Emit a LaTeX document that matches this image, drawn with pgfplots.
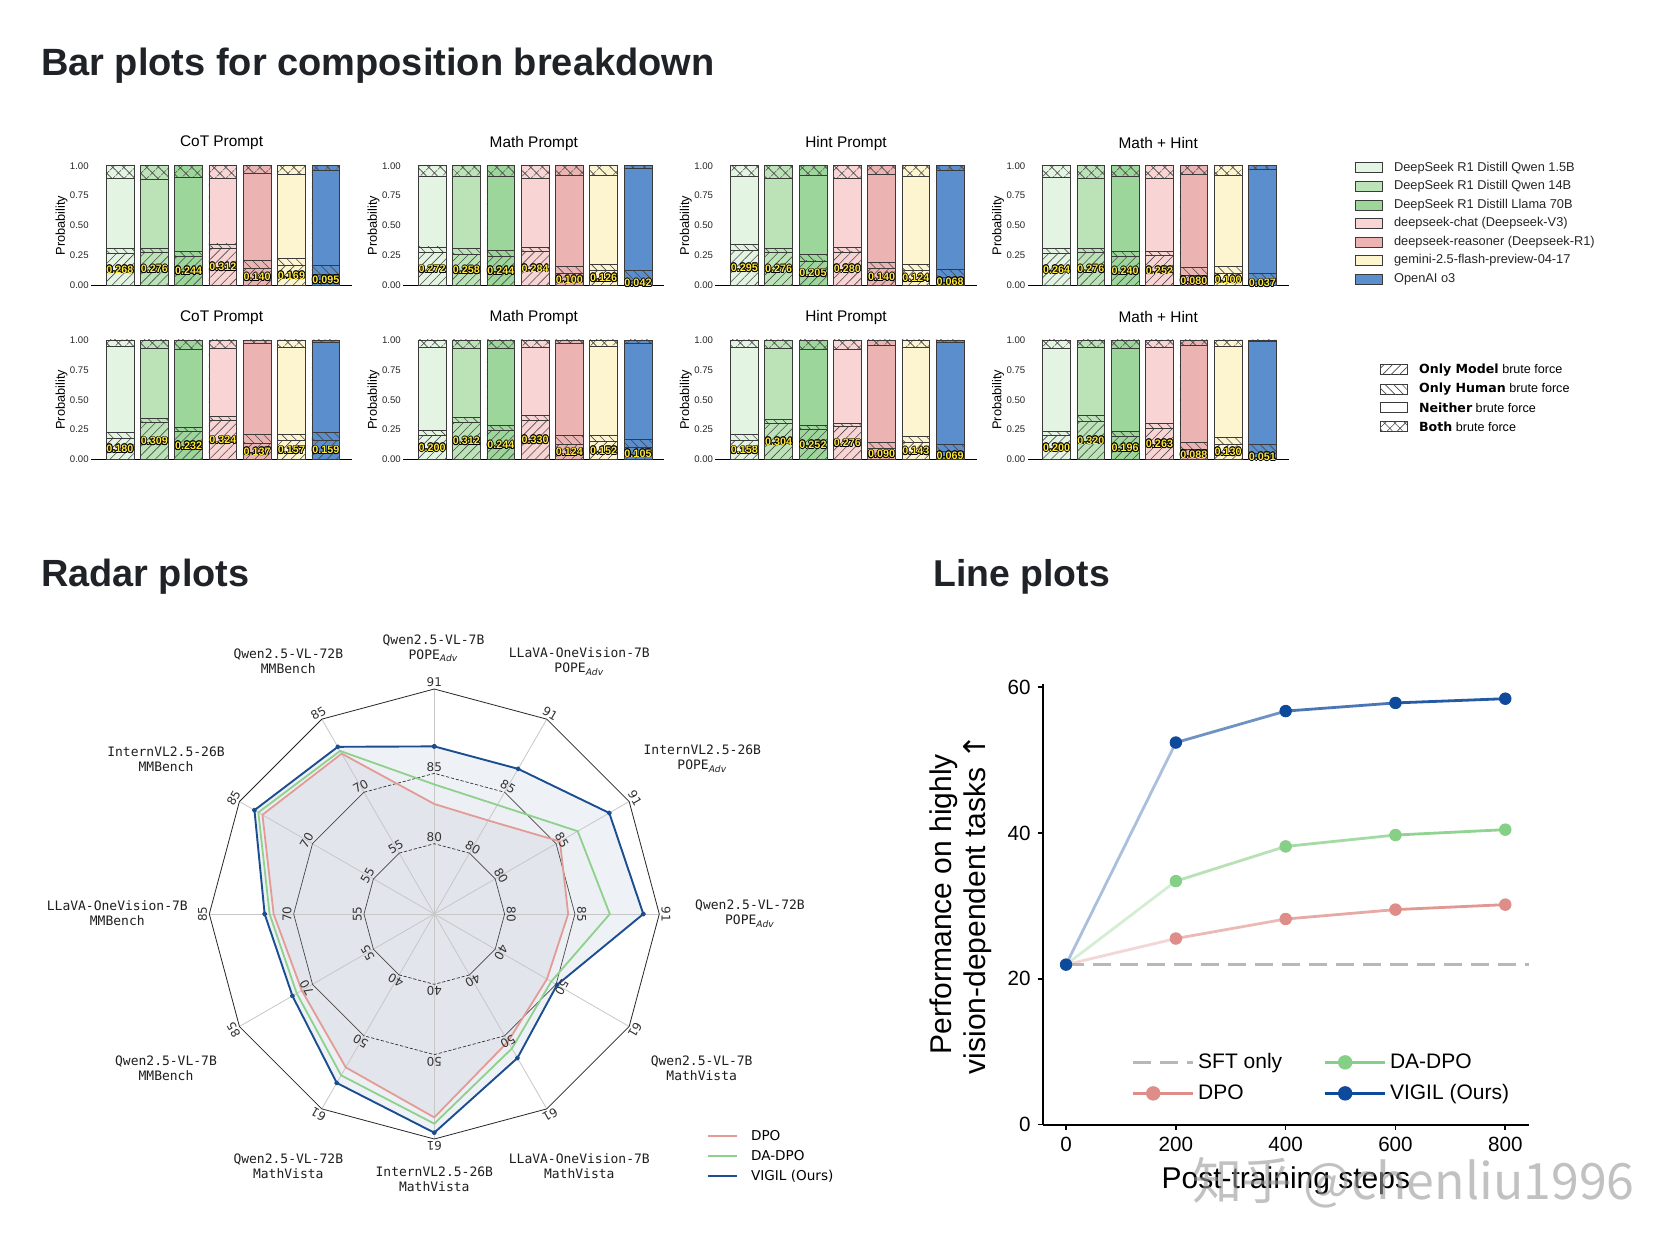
\documentclass[border=0pt]{standalone}
\usepackage{graphicx}
\usepackage{pgfplots}
\pgfplotsset{compat=1.18}
\usepgfplotslibrary{polar}
\usetikzlibrary{patterns.meta}
\usepackage{fontspec}
\setmainfont{Liberation Sans}
\setsansfont{Liberation Sans}
\newfontfamily\mono{DejaVu Sans Mono}
\newfontfamily\dejavu{DejaVu Sans}
\newfontfamily\cjk{Noto Sans CJK SC}
\newcommand\fs[2]{\fontsize{#1}{#2}\selectfont}

\definecolor{c0}{HTML}{E4F4E2}
\definecolor{c1}{HTML}{BCE3B8}
\definecolor{c2}{HTML}{9DD69A}
\definecolor{c3}{HTML}{F8D5D4}
\definecolor{c4}{HTML}{ECB3B3}
\definecolor{c5}{HTML}{FDF5CF}
\definecolor{c6}{HTML}{5B8ECC}
\definecolor{edge}{HTML}{3A3A3A}
\definecolor{hatch}{HTML}{4A4A4A}
\definecolor{labyellow}{HTML}{FFE83A}
\definecolor{vigil}{HTML}{1B4D91}
\definecolor{dadpo}{HTML}{8FD08C}
\definecolor{dpo}{HTML}{E39B96}
\definecolor{lvigil}{HTML}{0E4A9C}
\definecolor{lda}{HTML}{86CF86}
\definecolor{ldpo}{HTML}{DE8D88}
\definecolor{sft}{HTML}{B8B8B8}
\definecolor{head}{HTML}{1F2328}
\definecolor{rfill}{HTML}{7A7F8A}

\pgfplotsset{
 OMs/.style={bar shift=0pt, draw=edge, line width=0.35pt, postaction={pattern={Lines[angle=45,distance=3.2pt,line width=0.3pt]}, pattern color=hatch}},
 OHs/.style={bar shift=0pt, draw=edge, line width=0.35pt, postaction={pattern={Lines[angle=-45,distance=3.2pt,line width=0.3pt]}, pattern color=hatch}},
 Ns/.style={bar shift=0pt, draw=edge, line width=0.35pt},
 Bs/.style={bar shift=0pt, draw=edge, line width=0.35pt, postaction={pattern={Hatch[angle=45,distance=4pt,line width=0.3pt]}, pattern color=hatch}},
}
\tikzset{rlabel/.style={font=\dejavu\fs{6}{7}, text=black!80, inner sep=0pt}}

\newcommand\otext[1]{%
 \makebox[0pt]{\raisebox{0.4pt}{\color{black}#1}}%
 \makebox[0pt]{\raisebox{-0.4pt}{\color{black}#1}}%
 \makebox[0pt]{\hspace{0.8pt}\color{black}#1}%
 \makebox[0pt]{\hspace{-0.8pt}\color{black}#1}%
 \makebox[0pt]{\hspace{0.6pt}\raisebox{0.3pt}{\color{black}#1}}%
 \makebox[0pt]{\hspace{-0.6pt}\raisebox{-0.3pt}{\color{black}#1}}%
 \makebox[0pt]{\hspace{0.6pt}\raisebox{-0.3pt}{\color{black}#1}}%
 \makebox[0pt]{\hspace{-0.6pt}\raisebox{0.3pt}{\color{black}#1}}%
 \makebox[0pt]{\color{labyellow}#1}}

\pgfplotsset{
 barax/.style={
  scale only axis, width=130.6pt, height=59.85pt,
  ybar, bar width=0.81,
  xmin=-0.845, xmax=6.77, ymin=0, ymax=1,
  axis x line*=bottom, axis y line*=left,
  y axis line style={draw=none},
  x axis line style={line width=0.8pt, black},
  xtick=\empty,
  ytick={0,0.25,0.5,0.75,1}, yticklabels={0.00,0.25,0.50,0.75,1.00},
  major tick length=0pt,
  yticklabel style={font=\fs{4.8}{5.5}, text=black!85, inner sep=1pt},
  ylabel={Probability},
  ylabel style={at={(axis description cs:-0.113,0.5)}, anchor=center, font=\fs{6.4}{7.5}},
  title style={at={(axis description cs:0.5,1)}, anchor=center, yshift=5.25pt, font=\fs{7.7}{9}},
  clip=false,
 }
}

% one stacked bar, drawn back to front from its cumulative boundaries:
% idx, colour, top of "only model", top of "only human", top of "neither" (top of "both" = 1)
\newcommand\onebar[5]{%
 \addplot[fill=#2, Bs] coordinates {(#1,1)};
 \addplot[fill=#2, Ns] coordinates {(#1,#5)};
 \addplot[fill=#2, OHs] coordinates {(#1,#4)};
 \addplot[fill=#2, OMs] coordinates {(#1,#3)};
}
\newcommand\barlabels[7]{%
 \addplot[bar shift=0pt, draw=none, fill=none, y filter/.expression={y/2},
   nodes near coords={\otext{\pgfplotspointmeta}}, point meta=explicit symbolic,
   every node near coord/.style={anchor=center, inner sep=0pt, font=\bfseries\fs{5.4}{6}}]
   coordinates {(0,#1)[#1] (1,#2)[#2] (2,#3)[#3] (3,#4)[#4] (4,#5)[#5] (5,#6)[#6] (6,#7)[#7]};
}
\newcommand\barplot[4]{%
 \begin{axis}[barax, at={(#1pt,#2pt)}, anchor=south west, title={#3}]
 #4
 \end{axis}}

\newcommand\rlab[4]{%
 \node[rlabel, rotate=#1-90] at (axis cs:#1,0.3425) {#2};
 \node[rlabel, rotate=#1-90] at (axis cs:#1,0.655) {#3};
 \node[rlabel, rotate=#1-90] at (axis cs:#1,1.03) {#4};}
% ring at radius #1 : solid on the side sectors, dashed next to the vertical spokes
\newcommand\ring[1]{%
 \addplot[draw=black!72, line width=0.35pt] coordinates {(60,#1)(30,#1)(0,#1)(-30,#1)(-60,#1)};
 \addplot[draw=black!72, line width=0.35pt] coordinates {(-120,#1)(-150,#1)(-180,#1)(-210,#1)(-240,#1)};
 \addplot[draw=black!80, line width=0.35pt, dash pattern=on 1.6pt off 0.9pt] coordinates {(-240,#1)(90,#1)(60,#1)};
 \addplot[draw=black!80, line width=0.35pt, dash pattern=on 1.6pt off 0.9pt] coordinates {(-60,#1)(-90,#1)(-120,#1)};
}

\newcommand\adv{POPE\textsubscript{\dejavu\itshape Adv}}

\begin{document}
\begin{tikzpicture}
\begin{scope}[x=0.5pt,y=-0.5pt]
\fill[white] (0,0) rectangle (1676,1248);
% headings
\node[anchor=base west, inner sep=0pt, text=head] at (40.6,75.9) {\resizebox{336.7pt}{!}{\bfseries Bar plots for composition breakdown}};
\node[anchor=base west, inner sep=0pt, text=head] at (40.6,586.8) {\resizebox{104.2pt}{!}{\bfseries Radar plots}};
\node[anchor=base west, inner sep=0pt, text=head] at (933.2,586.8) {\resizebox{88.2pt}{!}{\bfseries Line plots}};
% model legend
\foreach \c/\t [count=\k from 0] in {c0/DeepSeek R1 Distill Qwen 1.5B, c1/DeepSeek R1 Distill Qwen 14B, c2/DeepSeek R1 Distill Llama 70B, c3/deepseek-chat (Deepseek-V3), c4/deepseek-reasoner (Deepseek-R1), c5/gemini-2.5-flash-preview-04-17, c6/OpenAI o3}{
  \pgfmathsetmacro\yy{167.8+18.53*\k}
  \draw[fill=\c, draw=edge, line width=0.35pt] (1355,\yy-5) rectangle (1382,\yy+5);
  \node[anchor=west, font=\fs{6.4}{7.5}, text=black!85] at (1387,\yy) {\t};
}
% hatch legend
\draw[fill=white, draw=edge, line width=0.35pt, postaction={pattern={Lines[angle=45,distance=3pt,line width=0.3pt]}, pattern color=hatch}] (1380,364.8) rectangle (1407,374.8);
\draw[fill=white, draw=edge, line width=0.35pt, postaction={pattern={Lines[angle=-45,distance=3pt,line width=0.3pt]}, pattern color=hatch}] (1380,384) rectangle (1407,394);
\draw[fill=white, draw=edge, line width=0.35pt] (1380,402.3) rectangle (1407,412.3);
\draw[fill=white, draw=edge, line width=0.35pt, postaction={pattern={Hatch[angle=45,distance=3.6pt,line width=0.3pt]}, pattern color=hatch}] (1380,421.5) rectangle (1407,431.5);
\node[anchor=west, font=\fs{6.3}{7.5}] at (1412,369.8) {{\dejavu\bfseries Only Model} brute force};
\node[anchor=west, font=\fs{6.3}{7.5}] at (1412,389) {{\dejavu\bfseries Only Human} brute force};
\node[anchor=west, font=\fs{6.3}{7.5}] at (1412,407.3) {{\dejavu\bfseries Neither} brute force};
\node[anchor=west, font=\fs{6.3}{7.5}] at (1412,426.5) {{\dejavu\bfseries Both} brute force};
% radar category labels
\tikzset{rcat/.style={align=center, font=\mono\fs{6.5}{7.5}, text=black!88, inner sep=0pt}}
\node[rcat] at (433.5,648.3) {Qwen2.5-VL-7B\\\adv};
\node[rcat] at (579.3,662) {LLaVA-OneVision-7B\\\adv};
\node[rcat] at (702.3,759) {InternVL2.5-26B\\\adv};
\node[rcat] at (750,913.8) {Qwen2.5-VL-72B\\\adv};
\node[rcat] at (701.7,1068) {Qwen2.5-VL-7B\\MathVista};
\node[rcat] at (579.3,1166) {LLaVA-OneVision-7B\\MathVista};
\node[rcat] at (434.3,1179.5) {InternVL2.5-26B\\MathVista};
\node[rcat] at (288.3,1166) {Qwen2.5-VL-72B\\MathVista};
\node[rcat] at (166,1068) {Qwen2.5-VL-7B\\MMBench};
\node[rcat] at (117.3,913.5) {LLaVA-OneVision-7B\\MMBench};
\node[rcat] at (166,759.3) {InternVL2.5-26B\\MMBench};
\node[rcat] at (288.3,661.7) {Qwen2.5-VL-72B\\MMBench};
% radar legend
\draw[dpo, line width=1pt] (708,1135.7) -- (737,1135.7);
\draw[dadpo, line width=1pt] (708,1155.7) -- (737,1155.7);
\draw[vigil, line width=1pt] (708,1176.2) -- (737,1176.2);
\node[anchor=west, font=\dejavu\fs{6.8}{8}] at (744,1135.7) {DPO};
\node[anchor=west, font=\dejavu\fs{6.8}{8}] at (744,1155.7) {DA-DPO};
\node[anchor=west, font=\dejavu\fs{6.8}{8}] at (744,1176.2) {VIGIL (Ours)};
\end{scope}

% ---------------- bar plots ----------------
\barplot{45.5}{-142.7}{CoT Prompt}{%
 \onebar{0}{c0}{0.268}{0.306}{0.894}
 \onebar{1}{c1}{0.276}{0.311}{0.889}
 \onebar{2}{c2}{0.244}{0.286}{0.903}
 \onebar{3}{c3}{0.312}{0.347}{0.897}
 \onebar{4}{c4}{0.140}{0.208}{0.939}
 \onebar{5}{c5}{0.169}{0.228}{0.925}
 \onebar{6}{c6}{0.095}{0.167}{0.964}
 \barlabels{0.268}{0.276}{0.244}{0.312}{0.140}{0.169}{0.095}}
\barplot{201.6}{-142.7}{Math Prompt}{%
 \onebar{0}{c0}{0.272}{0.322}{0.911}
 \onebar{1}{c1}{0.258}{0.306}{0.911}
 \onebar{2}{c2}{0.244}{0.289}{0.911}
 \onebar{3}{c3}{0.284}{0.319}{0.897}
 \onebar{4}{c4}{0.100}{0.158}{0.922}
 \onebar{5}{c5}{0.126}{0.175}{0.922}
 \onebar{6}{c6}{0.042}{0.125}{0.981}
 \barlabels{0.272}{0.258}{0.244}{0.284}{0.100}{0.126}{0.042}}
\barplot{357.7}{-142.7}{Hint Prompt}{%
 \onebar{0}{c0}{0.295}{0.339}{0.908}
 \onebar{1}{c1}{0.276}{0.306}{0.894}
 \onebar{2}{c2}{0.205}{0.258}{0.917}
 \onebar{3}{c3}{0.280}{0.314}{0.894}
 \onebar{4}{c4}{0.140}{0.194}{0.931}
 \onebar{5}{c5}{0.124}{0.172}{0.911}
 \onebar{6}{c6}{0.068}{0.136}{0.964}
 \barlabels{0.295}{0.276}{0.205}{0.280}{0.140}{0.124}{0.068}}
\barplot{513.8}{-142.7}{Math + Hint}{%
 \onebar{0}{c0}{0.264}{0.306}{0.906}
 \onebar{1}{c1}{0.276}{0.306}{0.894}
 \onebar{2}{c2}{0.240}{0.286}{0.914}
 \onebar{3}{c3}{0.252}{0.283}{0.894}
 \onebar{4}{c4}{0.080}{0.150}{0.931}
 \onebar{5}{c5}{0.100}{0.158}{0.919}
 \onebar{6}{c6}{0.037}{0.097}{0.967}
 \barlabels{0.264}{0.276}{0.240}{0.252}{0.080}{0.100}{0.037}}
\barplot{45.5}{-229.8}{CoT Prompt}{%
 \onebar{0}{c0}{0.180}{0.230}{0.950}
 \onebar{1}{c1}{0.309}{0.341}{0.928}
 \onebar{2}{c2}{0.232}{0.266}{0.922}
 \onebar{3}{c3}{0.324}{0.360}{0.928}
 \onebar{4}{c4}{0.137}{0.208}{0.972}
 \onebar{5}{c5}{0.157}{0.208}{0.939}
 \onebar{6}{c6}{0.159}{0.224}{0.978}
 \barlabels{0.180}{0.309}{0.232}{0.324}{0.137}{0.157}{0.159}}
\barplot{201.6}{-229.8}{Math Prompt}{%
 \onebar{0}{c0}{0.200}{0.244}{0.936}
 \onebar{1}{c1}{0.312}{0.349}{0.931}
 \onebar{2}{c2}{0.244}{0.283}{0.931}
 \onebar{3}{c3}{0.330}{0.368}{0.936}
 \onebar{4}{c4}{0.124}{0.202}{0.972}
 \onebar{5}{c5}{0.152}{0.202}{0.950}
 \onebar{6}{c6}{0.105}{0.166}{0.972}
 \barlabels{0.200}{0.312}{0.244}{0.330}{0.124}{0.152}{0.105}}
\barplot{357.7}{-229.8}{Hint Prompt}{%
 \onebar{0}{c0}{0.158}{0.208}{0.936}
 \onebar{1}{c1}{0.304}{0.335}{0.928}
 \onebar{2}{c2}{0.252}{0.283}{0.922}
 \onebar{3}{c3}{0.276}{0.305}{0.922}
 \onebar{4}{c4}{0.090}{0.147}{0.956}
 \onebar{5}{c5}{0.143}{0.197}{0.936}
 \onebar{6}{c6}{0.069}{0.125}{0.978}
 \barlabels{0.158}{0.304}{0.252}{0.276}{0.090}{0.143}{0.069}}
\barplot{513.8}{-229.8}{Math + Hint}{%
 \onebar{0}{c0}{0.200}{0.235}{0.928}
 \onebar{1}{c1}{0.320}{0.368}{0.942}
 \onebar{2}{c2}{0.196}{0.235}{0.928}
 \onebar{3}{c3}{0.263}{0.305}{0.936}
 \onebar{4}{c4}{0.088}{0.141}{0.956}
 \onebar{5}{c5}{0.130}{0.183}{0.945}
 \onebar{6}{c6}{0.051}{0.127}{0.992}
 \barlabels{0.200}{0.320}{0.196}{0.263}{0.088}{0.130}{0.051}}

% ---------------- radar ----------------
\begin{polaraxis}[at={(217.15pt,-457pt)}, anchor=center, scale only axis,
  width=225pt, height=225pt, ymin=0, ymax=1, hide axis, grid=none,
  xtick=\empty, ytick=\empty, clip=false]
 % filled areas first
 \addplot[draw=none, fill=rfill, fill opacity=0.07] coordinates {(90,0.489)(60,0.48)(30,0.645)(0,0.595)(-30,0.578)(-60,0.655)(-90,0.904)(-120,0.787)(-150,0.68)(-180,0.714)(-210,0.882)(-240,0.823)(90,0.489)};
 \addplot[draw=none, fill=rfill, fill opacity=0.02] coordinates {(90,0.576)(60,0.56)(30,0.736)(0,0.78)(-30,0.60)(-60,0.69)(-90,0.932)(-120,0.828)(-150,0.706)(-180,0.732)(-210,0.903)(-240,0.837)(90,0.576)};
 \addplot[draw=none, fill=vigil, fill opacity=0.07] coordinates {(90,0.745)(60,0.745)(30,0.898)(0,0.929)(-30,0.63)(-60,0.739)(-90,0.972)(-120,0.867)(-150,0.728)(-180,0.754)(-210,0.923)(-240,0.858)(90,0.745)};
 % spokes
 \addplot[draw=black!22, line width=0.4pt] coordinates {(90,0)(90,1)};
 \addplot[draw=black!22, line width=0.4pt] coordinates {(60,0)(60,1)};
 \addplot[draw=black!22, line width=0.4pt] coordinates {(30,0)(30,1)};
 \addplot[draw=black!22, line width=0.4pt] coordinates {(0,0)(0,1)};
 \addplot[draw=black!22, line width=0.4pt] coordinates {(-30,0)(-30,1)};
 \addplot[draw=black!22, line width=0.4pt] coordinates {(-60,0)(-60,1)};
 \addplot[draw=black!22, line width=0.4pt] coordinates {(-90,0)(-90,1)};
 \addplot[draw=black!22, line width=0.4pt] coordinates {(-120,0)(-120,1)};
 \addplot[draw=black!22, line width=0.4pt] coordinates {(-150,0)(-150,1)};
 \addplot[draw=black!22, line width=0.4pt] coordinates {(-180,0)(-180,1)};
 \addplot[draw=black!22, line width=0.4pt] coordinates {(-210,0)(-210,1)};
 \addplot[draw=black!22, line width=0.4pt] coordinates {(-240,0)(-240,1)};
 % rings
 \ring{0.3125}
 \ring{0.625}
 \addplot[draw=black!85, line width=0.4pt] coordinates {(90,1)(60,1)(30,1)(0,1)(-30,1)(-60,1)(-90,1)(-120,1)(-150,1)(-180,1)(-210,1)(-240,1)(90,1)};
 % DPO
 \addplot[draw=dpo, line width=0.9pt, line join=round] coordinates {(90,0.489)(60,0.48)(30,0.645)(0,0.595)(-30,0.578)(-60,0.655)(-90,0.904)(-120,0.787)(-150,0.68)(-180,0.714)(-210,0.882)(-240,0.823)(90,0.489)};
 % DA-DPO
 \addplot[draw=dadpo, line width=0.9pt, line join=round] coordinates {(90,0.576)(60,0.56)(30,0.736)(0,0.78)(-30,0.60)(-60,0.69)(-90,0.932)(-120,0.828)(-150,0.706)(-180,0.732)(-210,0.903)(-240,0.837)(90,0.576)};
 % VIGIL
 \addplot[draw=vigil, line width=0.95pt, line join=round, mark=*, mark size=0.8pt] coordinates {(90,0.745)(60,0.745)(30,0.898)(0,0.929)(-30,0.63)(-60,0.739)(-90,0.972)(-120,0.867)(-150,0.728)(-180,0.754)(-210,0.923)(-240,0.858)(90,0.745)};
 \rlab{90}{80}{85}{91}
 \rlab{60}{80}{85}{91}
 \rlab{30}{80}{85}{91}
 \rlab{0}{80}{85}{91}
 \rlab{-30}{40}{50}{61}
 \rlab{-60}{40}{50}{61}
 \rlab{-90}{40}{50}{61}
 \rlab{-120}{40}{50}{61}
 \rlab{-150}{55}{70}{85}
 \rlab{-180}{55}{70}{85}
 \rlab{-210}{55}{70}{85}
 \rlab{-240}{55}{70}{85}
\end{polaraxis}

% ---------------- line plot ----------------
\begin{axis}[at={(521.6pt,-562.25pt)}, anchor=south west, scale only axis,
  width=242.65pt, height=220.45pt,
  xmin=-41.6, xmax=842.3, ymin=0, ymax=60.5,
  axis x line*=bottom, axis y line*=left,
  axis line style={line width=1pt, black},
  xtick={0,200,400,600,800}, ytick={0,20,40,60},
  tick align=outside, major tick length=2.8pt,
  tick style={line width=0.8pt, black},
  /pgf/number format/assume math mode=true,
  tick label style={font=\fs{10.3}{12}},
  xlabel={Post-training steps},
  xlabel style={at={(axis description cs:0.5,-0.128)}, anchor=center, font=\fs{15}{17}},
  ylabel={Performance on highly\\vision-dependent tasks {\dejavu ↑}},
  ylabel style={at={(axis description cs:-0.1694,0.5)}, anchor=center, align=center, font=\fs{15}{17}},
  clip=false,
  legend columns=2, legend cell align=left,
  legend style={at={(axis cs:118,6.4)}, anchor=west, draw=none, fill=none,
    font=\fs{10.5}{12.6}, row sep=2.4pt, inner sep=0pt,
    /tikz/every even column/.append style={column sep=18.5pt}},
  legend image code/.code={%
    \draw[#1, mark=none] (0pt,0pt) -- (20.5pt,0pt);
    \draw[#1] plot coordinates {(10.25pt,0pt)};
    \path (0pt,0pt) -- (30pt,0pt);},
]
 \addlegendimage{sft, line width=1.5pt, dash pattern=on 9pt off 4.5pt}
 \addlegendentry{SFT only}
 \addlegendimage{lda, line width=1.4pt, mark=*, mark size=2.9pt}
 \addlegendentry{DA-DPO}
 \addlegendimage{ldpo, line width=1.4pt, mark=*, mark size=2.9pt}
 \addlegendentry{DPO}
 \addlegendimage{lvigil, line width=1.4pt, mark=*, mark size=2.9pt}
 \addlegendentry{VIGIL (Ours)}
 % SFT only
 \addplot[sft, line width=1.5pt, dash pattern=on 9pt off 4.5pt, forget plot] coordinates {(0,21.94)(842.3,21.94)};
 % DPO
 \addplot[ldpo, line width=1.4pt, draw opacity=0.35, forget plot] coordinates {(0,21.94)(200,25.52)};
 \addplot[ldpo, line width=1.4pt, draw opacity=0.6, forget plot] coordinates {(200,25.52)(400,28.2)};
 \addplot[ldpo, line width=1.4pt, draw opacity=0.75, forget plot] coordinates {(400,28.2)(600,29.49)};
 \addplot[ldpo, line width=1.4pt, draw opacity=0.9, forget plot] coordinates {(600,29.49)(800,30.17)};
 \addplot[ldpo, only marks, mark=*, mark size=2.9pt, forget plot] coordinates {(200,25.52)(400,28.2)(600,29.49)(800,30.17)};
 % DA-DPO
 \addplot[lda, line width=1.4pt, draw opacity=0.35, forget plot] coordinates {(0,21.94)(200,33.4)};
 \addplot[lda, line width=1.4pt, draw opacity=0.6, forget plot] coordinates {(200,33.4)(400,38.16)};
 \addplot[lda, line width=1.4pt, draw opacity=0.75, forget plot] coordinates {(400,38.16)(600,39.72)};
 \addplot[lda, line width=1.4pt, draw opacity=0.9, forget plot] coordinates {(600,39.72)(800,40.46)};
 \addplot[lda, only marks, mark=*, mark size=2.9pt, forget plot] coordinates {(200,33.4)(400,38.16)(600,39.72)(800,40.46)};
 % VIGIL
 \addplot[lvigil, line width=1.4pt, draw opacity=0.35, forget plot] coordinates {(0,21.94)(200,52.41)};
 \addplot[lvigil, line width=1.4pt, draw opacity=0.6, forget plot] coordinates {(200,52.41)(400,56.73)};
 \addplot[lvigil, line width=1.4pt, draw opacity=0.75, forget plot] coordinates {(400,56.73)(600,57.85)};
 \addplot[lvigil, line width=1.4pt, draw opacity=0.9, forget plot] coordinates {(600,57.85)(800,58.43)};
 \addplot[lvigil, only marks, mark=*, mark size=2.9pt, forget plot] coordinates {(0,21.94)(200,52.41)(400,56.73)(600,57.85)(800,58.43)};
\end{axis}

\begin{scope}[x=0.5pt,y=-0.5pt]
\node[text=black!40, opacity=0.6, inner sep=0pt] at (1413.5,1183) {\resizebox{221pt}{!}{\cjk 知乎 @chenliu1996}};
\end{scope}
\end{tikzpicture}
\end{document}
